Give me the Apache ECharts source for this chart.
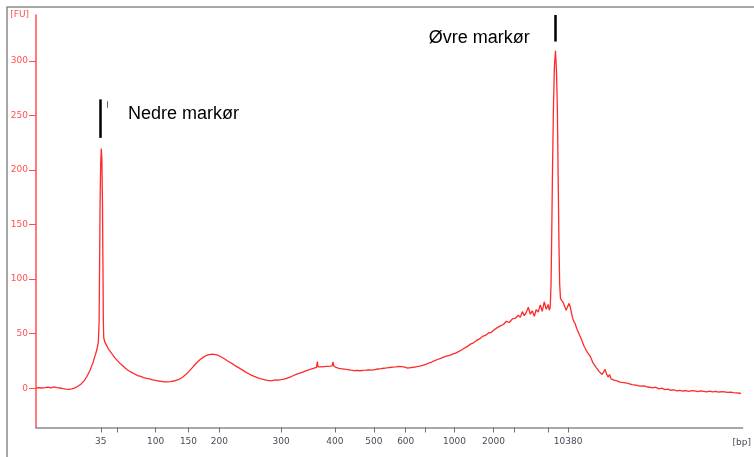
<!DOCTYPE html>
<html>
<head>
<meta charset="utf-8">
<script src="https://cdn.jsdelivr.net/npm/echarts@6/dist/echarts.min.js"></script>
<style>html,body{margin:0;padding:0;background:#fff;}#c{width:754px;height:457px;}</style>
</head>
<body>
<div id="c"></div>
<script>
// migration time (s) and fluorescence (FU)
const times = [40.00,40.30,40.60,40.90,41.20,41.50,41.80,42.10,42.40,42.70,43.00,43.30,43.60,43.90,44.20,44.50,44.80,45.10,45.40,45.70,45.90,46.10,46.25,46.33,46.38,46.43,46.49,46.55,46.61,46.67,46.72,46.76,46.80,46.90,47.10,47.30,47.50,47.70,47.90,48.10,48.40,48.70,49.00,49.30,49.60,49.90,50.20,50.50,50.80,51.10,51.40,51.70,52.00,52.30,52.60,52.90,53.20,53.50,53.80,54.10,54.40,54.70,55.00,55.30,55.60,55.90,56.20,56.50,56.80,57.10,57.40,57.70,58.00,58.30,58.60,58.90,59.20,59.50,59.80,60.10,60.40,60.70,61.00,61.30,61.60,61.90,62.20,62.50,62.80,63.10,63.40,63.70,64.00,64.30,64.60,64.90,65.20,65.50,65.80,66.10,66.40,66.70,67.00,67.30,67.60,67.90,68.15,68.23,68.30,68.60,68.90,69.20,69.50,69.73,69.80,69.88,70.10,70.40,70.70,71.00,71.30,71.60,71.90,72.20,72.50,72.80,73.10,73.40,73.70,74.00,74.30,74.60,74.90,75.20,75.50,75.80,76.10,76.40,76.70,77.00,77.30,77.60,77.90,78.20,78.50,78.80,79.10,79.40,79.70,80.00,80.30,80.60,80.90,81.20,81.50,81.80,82.10,82.40,82.70,83.00,83.30,83.60,83.90,84.20,84.50,84.80,85.10,85.40,85.70,86.00,86.30,86.60,86.90,87.20,87.50,87.80,88.10,88.40,88.60,88.80,89.00,89.20,89.40,89.60,89.80,90.00,90.20,90.40,90.60,90.80,91.00,91.20,91.40,91.50,91.60,91.68,91.75,91.83,91.92,92.02,92.13,92.23,92.32,92.40,92.48,92.55,92.63,92.75,92.90,93.05,93.20,93.35,93.50,93.65,93.80,93.95,94.10,94.25,94.40,94.55,94.70,94.85,95.00,95.15,95.30,95.45,95.60,95.75,95.90,96.05,96.20,96.35,96.50,96.65,96.80,96.95,97.10,97.25,97.40,97.55,97.70,97.85,98.00,98.15,98.30,98.45,98.60,98.80,99.00,99.20,99.40,99.60,99.80,100.00,100.20,100.40,100.60,100.80,101.00,101.20,101.40,101.60,101.90,102.20,102.50,102.80,103.10,103.40,103.70,104.00,104.30,104.60,104.90,105.20,105.50,105.80,106.10,106.40,106.70,107.00,107.30,107.60,107.90,108.20,108.50,108.80,109.10,109.40,109.70,110.00,110.30,110.60,110.75];
const fu = [0.3,0.6,0.2,0.5,0.9,0.4,1.2,0.5,0.2,-0.4,-0.8,-1.0,-0.6,0.3,1.8,3.6,6.5,10.5,16,23,29,35,42,60,110,170,205,219.6,210,170,110,60,46,42.5,39,35.5,33,30.5,28,26,23,20.5,18,16,14.5,13,11.5,10.8,9.8,9,8.6,7.6,7.2,6.6,6.2,5.8,5.9,6.1,6.6,7.3,8.4,10,12.3,15,18,21,24,26.5,28.5,30,30.8,31.2,30.8,30,28.6,27,25.2,23.5,21.8,20,18.4,16.8,15,13.5,12,10.8,9.8,8.8,8,7.4,7,6.9,7.6,7.4,7.8,8.4,9.2,10.2,11.4,12.6,13.6,14.6,15.6,16.6,17.6,18.4,19.2,24.5,19.5,19.6,19.8,20,20.2,20.4,24.2,20.4,19,18.2,17.8,17.4,17.1,16.6,16.2,16.4,16,16.3,16.5,16.8,16.6,17.1,17.6,17.9,18.3,18.6,19,19.3,19.6,20,19.7,19.3,18.4,18.8,19.2,19.8,20.3,21,21.9,22.9,24,25.2,26.3,27.3,28.4,29.3,30.1,31.2,32.2,33.6,35,36.8,38.3,40.4,41.6,43.8,45.2,47.5,48.4,50.6,51.2,53.8,55.5,57.1,58.4,61.3,60.2,63.5,64.2,66.8,64.9,70.2,66.5,69.5,74.2,67.8,70.9,65.9,72.1,69.8,76.4,70.5,79.2,72.3,76.8,71.5,74,95,140,200,255,295,309.3,290,255,190,130,95,82,83.5,78.5,80.2,71.5,75,77.8,73,66,61.5,59.2,55,53.4,48.5,45.6,44.5,38.4,36.9,33.2,31.4,29.5,28.1,23.2,22.6,19.1,18.2,15.4,15.9,12.6,14.8,17.2,13.3,10.2,12.5,8.6,9.8,7.4,9.2,6.8,7.9,5.6,7.2,5.1,6.3,4.4,5.5,3.2,4.6,2.9,4.1,1.9,3.6,2.2,2.8,1.1,1.8,0.4,0.9,-0.6,0.1,-1.3,-0.9,-2.0,-1.4,-2.4,-1.9,-2.6,-2.1,-2.9,-2.3,-2.5,-3.2,-2.4,-2.8,-3.3,-2.7,-3.4,-2.9,-3.6,-3.1,-3.3,-3.9,-3.5,-4.0,-4.3,-4.6,-4.8];

// x-axis ladder ticks (time, s) and their bp labels ('' = unlabeled tick)
const tickTimes = [46.5,48.2,52.0,55.3,58.4,64.6,70.0,73.9,77.1,79.1,82.0,85.9,88.0,91.4,93.4];
const tickLabels = ['35','','100','150','200','300','400','500','600','','1000','2000','','','10380'];
const yTicks = [0,50,100,150,200,250,300];

// marker annotations
const markerNames = ['Nedre markør','Øvre markør'];
const markerTextPos = [[49.23,251.7],[79.4,321.1]];
const markerBars = [[46.4,229.4,264.7],[92.07,317.7,342]];
const smallBar = [47.1,257,263];

const chart = echarts.init(document.getElementById('c'), null, {renderer:'canvas'});
const data = times.map((t,i)=>[t,fu[i]]);
const labelTimes = tickTimes.filter((t,i)=>tickLabels[i] !== '');
function bpLabel(v){
  let best=0, d=1e9;
  tickTimes.forEach((t,i)=>{const dd=Math.abs(t-v); if(dd<d){d=dd;best=i;}});
  return tickLabels[best];
}
const axisFont = 'DejaVu Sans';
chart.setOption({
  animation:false,
  backgroundColor:'#fff',
  grid:{left:36,right:9,top:15,bottom:29.5,containLabel:false},
  xAxis:{
    type:'value', min:40, max:110.9,
    axisLine:{onZero:false,lineStyle:{color:'#8a8a8a',width:1.5}},
    axisTick:{show:true,customValues:tickTimes,length:5,lineStyle:{color:'#707070',width:1}},
    axisLabel:{show:true,customValues:labelTimes,formatter:v=>bpLabel(v),color:'#4a4a58',fontFamily:axisFont,fontSize:9,margin:10},
    splitLine:{show:false},
    name:'[bp]', nameLocation:'end', nameGap:-10,
    nameTextStyle:{color:'#4a4a58',fontFamily:axisFont,fontSize:9,align:'left',verticalAlign:'top',padding:[11,0,0,0]}
  },
  yAxis:{
    type:'value', min:-36, max:342,
    axisLine:{show:true,lineStyle:{color:'#ff5050',width:1.5}},
    axisTick:{show:true,customValues:yTicks,length:7,lineStyle:{color:'#ff5050',width:1}},
    axisLabel:{show:true,customValues:yTicks,color:'#ff5050',fontFamily:axisFont,fontSize:9,margin:8},
    splitLine:{show:false},
    name:'[FU]', nameLocation:'end', nameGap:0,
    nameTextStyle:{color:'#ff5050',fontFamily:axisFont,fontSize:9,align:'right',verticalAlign:'middle',padding:[0,7,0,0]}
  },
  graphic:[{type:'rect',shape:{x:7,y:7,width:800,height:500},style:{fill:'none',stroke:'#8c8c8c',lineWidth:1.5},silent:true}],
  series:[{
    type:'line', data:data, showSymbol:false, symbol:'none', clip:false,
    lineStyle:{color:'#ff2a2a',width:1.3},
    markLine:{
      silent:true, symbol:'none', animation:false,
      label:{show:false},
      data:[
        [{coord:[markerBars[0][0],markerBars[0][1]],lineStyle:{color:'#000',width:2.5,type:'solid'}},{coord:[markerBars[0][0],markerBars[0][2]]}],
        [{coord:[markerBars[1][0],markerBars[1][1]],lineStyle:{color:'#000',width:2.5,type:'solid'}},{coord:[markerBars[1][0],markerBars[1][2]]}],
        [{coord:[smallBar[0],smallBar[1]],lineStyle:{color:'#666',width:1,type:'solid'}},{coord:[smallBar[0],smallBar[2]]}]
      ]
    },
    markPoint:{
      silent:true, symbol:'circle', symbolSize:0, animation:false,
      label:{show:true,position:'inside',color:'#000',fontFamily:'Liberation Sans, Arial',fontSize:18,align:'left',verticalAlign:'middle'},
      data:markerNames.map((n,i)=>({coord:markerTextPos[i],value:n,label:{formatter:n}}))
    }
  }]
});
</script>
</body>
</html>
